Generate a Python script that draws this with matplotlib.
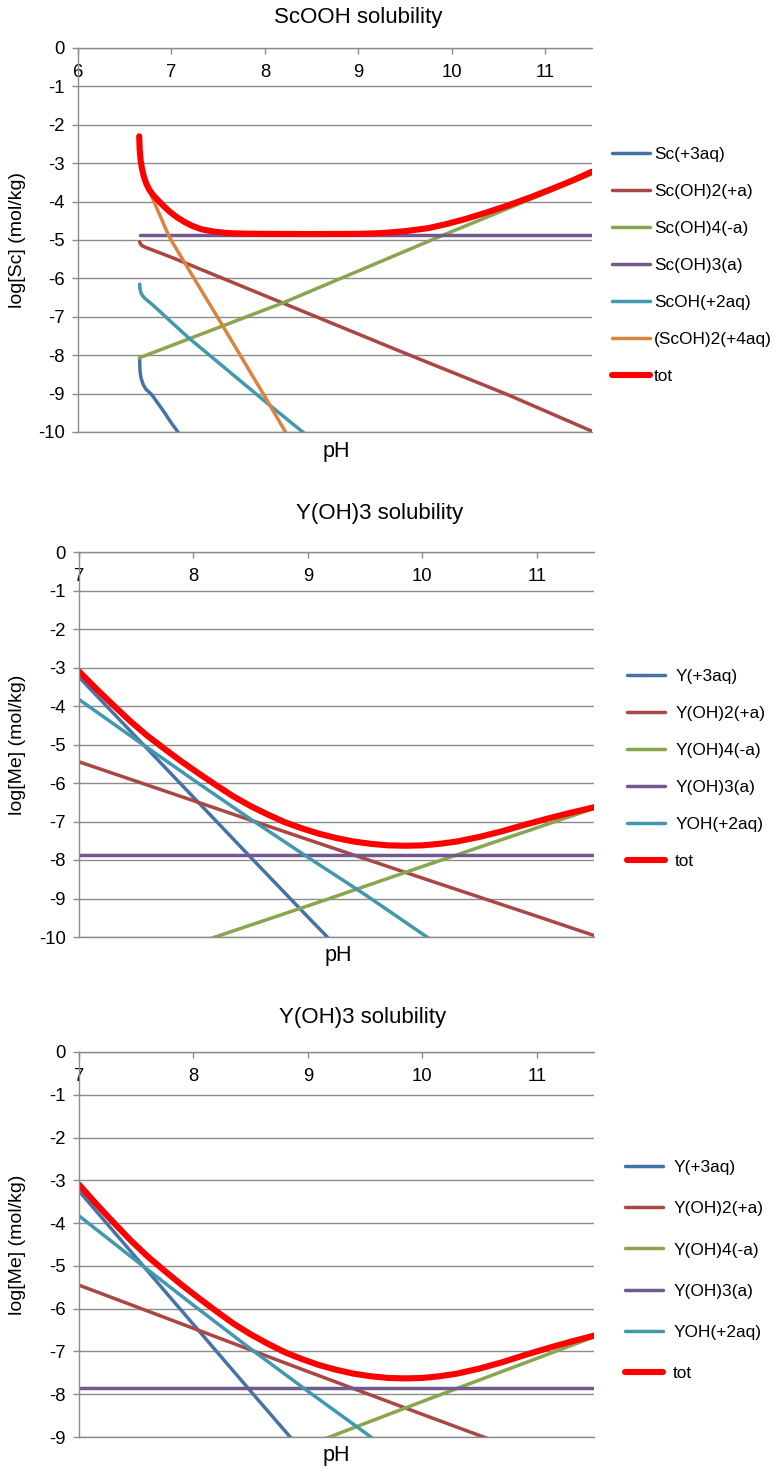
import matplotlib
matplotlib.use('Agg')
import matplotlib.pyplot as plt

plt.rcParams['font.family'] = ['Liberation Sans', 'DejaVu Sans']
plt.rcParams['axes.unicode_minus'] = False

# ---- ScOOH: log of species concentration vs pH ----
sc_labels = ['Sc(+3aq)', 'Sc(OH)2(+a)', 'Sc(OH)4(-a)', 'Sc(OH)3(a)', 'ScOH(+2aq)', '(ScOH)2(+4aq)', 'tot']
sc3_ph = [6.66, 6.662, 6.665, 6.675, 6.695, 6.725, 6.76, 6.79, 6.86, 6.93, 7.0, 7.07, 7.2]
sc3_log = [-8.12, -8.3, -8.45, -8.6, -8.75, -8.88, -8.96, -9.03, -9.27, -9.51, -9.77, -10.0, -10.45]
scoh2_ph = [6.66, 6.665, 6.68, 6.72, 7.0, 8.19, 9.5, 10.59, 11.5]
scoh2_log = [-5.05, -5.09, -5.14, -5.19, -5.45, -6.64, -7.95, -9.02, -9.98]
scoh4_ph = [6.655, 8.19, 9.9, 11.5]
scoh4_log = [-8.07, -6.64, -4.88, -3.28]
scoh3_ph = [6.66, 11.5]
scoh3_log = [-4.87, -4.87]
scoh_ph = [6.66, 6.662, 6.67, 6.69, 6.72, 6.78, 6.84, 7.0, 7.18, 8.0, 8.43, 8.5]
scoh_log = [-6.15, -6.25, -6.35, -6.45, -6.53, -6.65, -6.78, -7.14, -7.54, -9.2, -10.05, -10.2]
sc2oh2_ph = [6.656, 6.67, 6.70, 6.75, 6.805, 6.87, 6.93, 6.966, 7.0, 7.2, 7.54, 8.0, 8.225, 8.3]
sc2oh2_log = [-2.6, -2.9, -3.25, -3.62, -3.96, -4.32, -4.66, -4.86, -5.02, -5.83, -7.2, -9.08, -10.02, -10.3]
sc_tot_ph = [6.655, 6.66, 6.67, 6.685, 6.705, 6.73, 6.76, 6.80, 6.85, 6.91, 6.98, 7.06,
             7.14, 7.22, 7.32, 7.45, 7.6, 7.8, 8.0, 8.5, 9.0, 9.25, 9.5, 9.75, 9.95,
             10.15, 10.35, 10.6, 10.85, 11.1, 11.3, 11.5]
sc_tot_log = [-2.3, -2.65, -2.92, -3.15, -3.35, -3.53, -3.68, -3.82, -3.95, -4.1, -4.26,
              -4.41, -4.53, -4.63, -4.72, -4.78, -4.82, -4.835, -4.84, -4.845, -4.84, -4.82,
              -4.77, -4.69, -4.58, -4.45, -4.3, -4.1, -3.88, -3.64, -3.44, -3.22]

# ---- Y(OH)3 ----
y_labels = ['Y(+3aq)', 'Y(OH)2(+a)', 'Y(OH)4(-a)', 'Y(OH)3(a)', 'YOH(+2aq)', 'tot']
y3_ph = [7.0, 7.5, 8.0, 8.5, 9.0, 9.17, 9.3]
y3_log = [-3.25, -4.81, -6.37, -7.93, -9.48, -10.0, -10.4]
yoh2_ph = [7.0, 8.0, 9.0, 10.0, 11.0, 11.5]
yoh2_log = [-5.45, -6.46, -7.47, -8.47, -9.46, -9.96]
yoh4_ph = [8.0, 8.19, 9.16, 10.0, 11.5]
yoh4_log = [-10.2, -10.0, -9.03, -8.17, -6.66]
yoh3_ph = [7.0, 11.5]
yoh3_log = [-7.86, -7.86]
yoh_ph = [7.0, 7.5, 8.0, 8.5, 9.0, 9.5, 10.05, 10.2]
yoh_log = [-3.83, -4.88, -5.92, -6.94, -7.93, -8.9, -10.02, -10.3]
y_tot_ph = [7.0, 7.15, 7.3, 7.45, 7.6, 7.75, 7.9, 8.05, 8.2, 8.35, 8.5, 8.65, 8.8, 8.95,
            9.1, 9.25, 9.4, 9.55, 9.7, 9.85, 10.0, 10.15, 10.3, 10.5, 10.7, 10.9, 11.1,
            11.3, 11.5]
y_tot_log = [-3.1, -3.55, -3.98, -4.4, -4.78, -5.12, -5.45, -5.76, -6.06, -6.35, -6.6,
             -6.82, -7.02, -7.18, -7.32, -7.43, -7.52, -7.58, -7.62, -7.63, -7.62, -7.58,
             -7.52, -7.4, -7.25, -7.08, -6.92, -6.77, -6.63]

colors = ['#4572A7', '#AA4643', '#89A54E', '#71588F', '#4198AF', '#DB843D']
tot_color = '#FF0000'
grid_color = '#8c8c8c'

W, H = 774, 1470
fig = plt.figure(figsize=(W / 100, H / 100), dpi=100)

sc_series = [(sc3_ph, sc3_log), (scoh2_ph, scoh2_log), (scoh4_ph, scoh4_log),
             (scoh3_ph, scoh3_log), (scoh_ph, scoh_log), (sc2oh2_ph, sc2oh2_log),
             (sc_tot_ph, sc_tot_log)]
y_series = [(y3_ph, y3_log), (yoh2_ph, yoh2_log), (yoh4_ph, yoh4_log),
            (yoh3_ph, yoh3_log), (yoh_ph, yoh_log), (y_tot_ph, y_tot_log)]

# box = (left, top, right, bottom) in pixels; legend = (x, y top, handletextpad, labelspacing)
panels = [
    dict(title='ScOOH solubility', ylabel='log[Sc] (mol/kg)', series=sc_series, labels=sc_labels,
         xmin=6, ymin=-10, box=(78, 48, 592, 432), title_xy=(358, 17), ph_xy=(336, 452),
         legend=(612, 147, 0.25, 1.275)),
    dict(title='Y(OH)3 solubility', ylabel='log[Me] (mol/kg)', series=y_series, labels=y_labels,
         xmin=7, ymin=-10, box=(79, 552, 594, 937), title_xy=(380, 513), ph_xy=(338, 955),
         legend=(627, 669, 0.62, 1.275)),
    dict(title='Y(OH)3 solubility', ylabel='log[Me] (mol/kg)', series=y_series, labels=y_labels,
         xmin=7, ymin=-9, box=(79, 1052, 594, 1437), title_xy=(363, 1018), ph_xy=(336, 1455),
         legend=(625, 1160, 0.62, 1.52)),
]

for p in panels:
    l, t, r, b = p['box']
    ax = fig.add_axes([l / W, 1 - b / H, (r - l) / W, (b - t) / H])
    n = len(p['series'])
    for i, ((xs, ys), lab) in enumerate(zip(p['series'], p['labels'])):
        if i == n - 1:
            ax.plot(xs, ys, color=tot_color, lw=4.4, label=lab, solid_capstyle='round')
        else:
            ax.plot(xs, ys, color=colors[i], lw=2.5, label=lab, solid_capstyle='round')

    ax.set_xlim(p['xmin'], 11.5)
    ax.set_ylim(p['ymin'], 0)
    ax.set_xticks(range(p['xmin'], 12))
    ax.set_yticks(range(p['ymin'], 1))
    ax.xaxis.tick_top()
    ax.tick_params(axis='x', direction='in', length=4.5, width=1, color=grid_color,
                   labelsize=13.3, pad=-24)
    ax.tick_params(axis='y', direction='out', length=4.5, width=1, color=grid_color,
                   labelsize=13.3, pad=5)
    ax.grid(axis='y', color=grid_color, lw=1.0)
    ax.set_axisbelow(True)
    for side in ('left', 'top', 'bottom'):
        ax.spines[side].set_color(grid_color)
        ax.spines[side].set_linewidth(1.0)
    ax.spines['right'].set_visible(False)

    tx, ty = p['title_xy']
    fig.text(tx / W, 1 - ty / H, p['title'], ha='center', va='center', fontsize=16)
    px, py = p['ph_xy']
    fig.text(px / W, 1 - py / H, 'pH', ha='center', va='center', fontsize=15.5)
    fig.text(18 / W, 1 - (t + b) / 2 / H, p['ylabel'], ha='center', va='center',
             rotation=90, fontsize=14)

    lx, ly, tpad, lspace = p['legend']
    ax.legend(loc='upper left', bbox_to_anchor=(lx / W, 1 - ly / H), bbox_transform=fig.transFigure,
              frameon=False, borderpad=0, borderaxespad=0, fontsize=12.4,
              handlelength=2.18, handletextpad=tpad, labelspacing=lspace)

fig.savefig('out.png', dpi=100)
